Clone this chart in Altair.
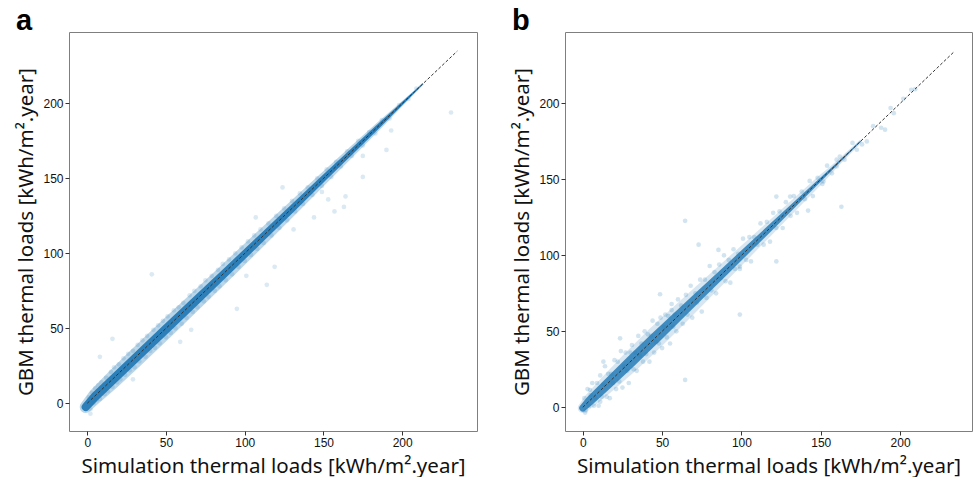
import altair as alt
import pandas as pd

TICKS = [0, 50, 100, 150, 200]
X_TITLE = "Simulation thermal loads [kWh/m².year]"
Y_TITLE = "GBM thermal loads [kWh/m².year]"
PANEL_LABELS = ["a", "b"]

# ---------- panel a ----------
A_BAND_X = [-1, 5, 15, 30, 50, 70, 90, 110, 130, 150, 170, 185, 195, 205, 213]
A_BAND_Y = [-2.5, 4.5, 14.5, 29.5, 49.5, 69.5, 89.5, 109.7, 129.8, 150, 170, 185, 195, 205, 213]
A_CORE_W = [8, 9, 9, 9, 9, 8.5, 8, 7.5, 7, 6, 5, 4, 3, 2, 1]
A_HALO_W = [12, 15, 17, 18, 18, 17, 16, 15, 13, 11, 9, 7, 5, 3, 2]
A_PTS_X = [1, 2, 3, 4, 5, 6, 7, 8, 9, 11, 12, 13, 15, 16, 17, 19, 20, 21, 23, 24,
           26, 27, 29, 30, 32, 33, 35, 37, 38, 40, 42, 43, 45, 46, 48, 50, 51, 53, 55, 56,
           58, 60, 61, 63, 65, 67, 68, 70, 72, 74, 75, 77, 79, 81, 83, 84, 86, 88, 90, 92,
           94, 96, 98, 100, 102, 104, 106, 108, 110, 112, 115, 117, 120, 122, 125, 127, 130, 132, 135, 137,
           140, 143, 146, 149, 152, 155, 158, 161, 165, 168, 172, 175, 179, 183, 187, 192, 198, 204, 209,
           231, 193, 190, 175, 175, 164, 163, 157, 153, 144, 149, 124, 131, 119, 114, 95, 101, 41, 59, 66,
           16, 29, 8, 2, 107]
A_PTS_Y = [4, -4, 7, 0, 10, 2, 12, 3, 14, 6, 17, 8, 21, 11, 24, 14, 26, 16, 30, 19,
           33, 22, 35, 24, 39, 28, 42, 31, 45, 35, 49, 37, 52, 40, 55, 44, 58, 47, 62, 50,
           64, 53, 67, 57, 72, 61, 75, 64, 78, 68, 82, 71, 85, 75, 89, 78, 93, 82, 96, 86,
           100, 91, 104, 95, 108, 99, 112, 103, 116, 107, 120, 112, 125, 117, 130, 122, 135, 128, 140, 133,
           144, 139, 150, 145, 156, 151, 161, 158, 168, 165, 175, 172, 181, 180, 189, 190, 199, 203, 210,
           194, 182, 169, 165, 151, 138, 131, 128, 136, 124, 141, 144, 116, 91, 79, 63, 85, 86, 41, 49,
           43, 16, 31, -7, 124]
A_LINE = [0, 235]
A_XDOM = [-11.6, 247.5]
A_YDOM = [-18.5, 247.7]

# ---------- panel b ----------
B_BAND_X = [0, 5, 15, 30, 45, 60, 75, 90, 105, 120, 135, 150, 160, 175]
B_BAND_Y = [-0.5, 4.8, 14.8, 29.8, 45, 60, 75, 90, 105, 120, 135, 150, 160, 175]
B_CORE_W = [7, 9, 10, 11, 11, 10, 9, 8, 7, 6, 4.5, 3, 2, 1]
B_HALO_W = [10, 14, 17, 20, 21, 20, 18, 16, 14, 12, 10, 8, 5, 3]
B_PTS_X = [1, 2, 3, 4, 5, 6, 7, 8, 9, 10, 11, 12, 13, 14, 15, 16, 17, 18, 19, 20,
           21, 22, 23, 24, 25, 26, 27, 28, 29, 30, 31, 32, 33, 34, 35, 36, 37, 38, 39, 40,
           41, 42, 43, 44, 45, 46, 47, 48, 49, 50, 51, 52, 53, 54, 55, 56, 57, 58, 59, 60,
           62, 63, 65, 66, 68, 69, 71, 72, 74, 75, 77, 78, 80, 81, 83, 84, 86, 87, 89, 90,
           92, 93, 95, 96, 98, 99, 101, 103, 105, 106, 108, 110, 112, 114, 116, 118, 120, 122, 124, 126,
           128, 131, 133, 135, 138, 140, 143, 145, 148, 151, 154, 157, 160, 165, 170, 176, 183, 188, 194, 202,
           207,
           64.5, 73, 85.5, 99, 64.5, 122, 163, 190.5, 196, 209.5, 179, 172.7, 162, 160, 151.7, 142, 130.7, 122, 48.7, 56,
           23.5, 13, 4.6, 11, 1.5, 99]
B_PTS_Y = [6, -2, 12, 1, 8, 16, 1, 6, 16, 1, 21, 7, 15, 27, 7, 22, 6, 22, 16, 31,
           12, 30, 17, 37, 13, 27, 36, 24, 16, 36, 41, 25, 36, 24, 47, 34, 42, 30, 50, 35,
           48, 30, 47, 57, 36, 43, 55, 42, 59, 39, 53, 61, 46, 60, 42, 68, 53, 61, 50, 71,
           67, 55, 74, 61, 80, 59, 75, 69, 84, 63, 84, 72, 93, 77, 89, 75, 94, 85, 100, 83,
           97, 82, 104, 91, 101, 91, 111, 97, 112, 96, 112, 107, 121, 107, 122, 109, 128, 118, 129, 118,
           135, 126, 139, 128, 142, 137, 149, 139, 151, 147, 159, 154, 163, 163, 174, 173, 185, 184, 197, 203,
           209,
           122.7, 107, 103.6, 61, 18, 96, 132, 182.7, 193.6, 209.4, 175, 169.5, 165, 158.5, 148.6, 129.5, 138.7, 138.7, 74.4, 64,
           45.4, 30, 11.4, 3.7, -3.5, 92.6]
B_LINE = [0, 234]
B_XDOM = [-11.2, 245.3]
B_YDOM = [-15.6, 247.0]

BLUE = "#1f77b4"


def panel(label, band_x, band_y, core_w, halo_w, px, py, line, xdom, ydom,
          w, h, halo_op, core_op, dot_op):
    band = pd.DataFrame({"x": band_x, "y": band_y, "core": core_w, "halo": halo_w,
                         "o": list(range(len(band_x)))})
    pts = pd.DataFrame({"x": px, "y": py})
    ln = pd.DataFrame({"x": line, "y": line})
    lab = pd.DataFrame({"t": [label]})

    X = alt.X("x:Q", scale=alt.Scale(domain=xdom, nice=False, zero=False),
              axis=alt.Axis(values=TICKS, title=X_TITLE))
    Y = alt.Y("y:Q", scale=alt.Scale(domain=ydom, nice=False, zero=False),
              axis=alt.Axis(values=TICKS, title=Y_TITLE))

    halo = alt.Chart(band).mark_trail(color=BLUE, opacity=halo_op).encode(
        x=X, y=Y, order="o:Q", size=alt.Size("halo:Q", scale=None, legend=None))
    core = alt.Chart(band).mark_trail(color=BLUE, opacity=core_op).encode(
        x=X, y=Y, order="o:Q", size=alt.Size("core:Q", scale=None, legend=None))
    dots = alt.Chart(pts).mark_circle(color=BLUE, opacity=dot_op, size=22).encode(x=X, y=Y)
    diag = alt.Chart(ln).mark_line(color="#333333", strokeDash=[3, 2], strokeWidth=1).encode(x=X, y=Y)
    text = alt.Chart(lab).mark_text(align="left", baseline="alphabetic", fontSize=29,
                                    fontWeight="bold", font="Liberation Sans",
                                    color="black").encode(
        x=alt.value(-53), y=alt.value(-2), text="t:N")
    return alt.layer(halo, dots, core, diag, text).properties(width=w, height=h)


pa = panel(PANEL_LABELS[0], A_BAND_X, A_BAND_Y, A_CORE_W, A_HALO_W, A_PTS_X, A_PTS_Y,
           A_LINE, A_XDOM, A_YDOM, 408, 399, 0.3, 0.92, 0.16)
pb = panel(PANEL_LABELS[1], B_BAND_X, B_BAND_Y, B_CORE_W, B_HALO_W, B_PTS_X, B_PTS_Y,
           B_LINE, B_XDOM, B_YDOM, 407, 399, 0.18, 0.82, 0.2)

chart = alt.hconcat(pa, pb, spacing=88, bounds="flush").properties(
    padding={"left": 15, "top": 6, "right": 0, "bottom": 0}
).configure_view(
    stroke="#7f7f7f", strokeWidth=1
).configure_axis(
    domain=False, grid=False, tickColor="#333333", tickSize=4, tickWidth=1,
    labelFont="Liberation Sans", labelFontSize=12, labelColor="#111111", labelPadding=2,
    titleFont="Noto Sans", titleFontSize=20.5, titleFontWeight="normal", titleColor="#111111",
).configure_axisX(titlePadding=8).configure_axisY(titlePadding=6)

chart.save("out.html", embed_options={"renderer": "svg", "actions": False})
